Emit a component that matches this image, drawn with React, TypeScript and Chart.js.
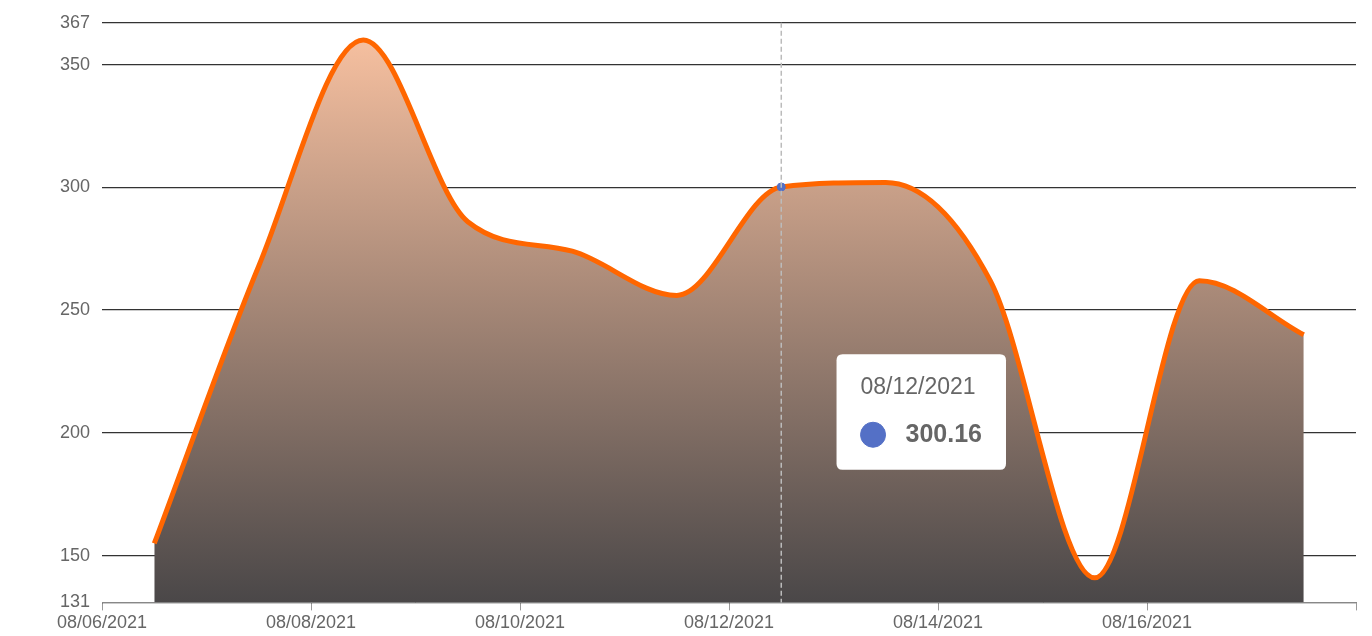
import React, { useEffect, useRef } from "react";
import { Chart, registerables, Tooltip } from "chart.js";
Chart.register(...registerables);

const dayLabels = ["08/06/2021","08/07/2021","08/08/2021","08/09/2021","08/10/2021","08/11/2021","08/12/2021","08/13/2021","08/14/2021","08/15/2021","08/16/2021","08/17/2021","08/18/2021"];
const pointDays = [0.5,1.5,2.5,3.5,4.5,5.5,6.5,7.5,8.5,9.5,10.5,11.5];
const values = [155,268,360,286,274,256,300.16,302,262,141,262,240];
const yTicks = [131,150,200,250,300,350,367];

(Tooltip.positioners as any).offsetBox = function (items: any[]) {
  if (!items.length) return false;
  const el = items[0].element;
  return { x: el.x + 140, y: el.y + 225 };
};

export default function App() {
  const ref = useRef<HTMLCanvasElement>(null);
  useEffect(() => {
    document.body.style.margin = "0";
    const ctx = ref.current!.getContext("2d")!;
    const crosshair = {
      id: "crosshair",
      afterDatasetsDraw(chart: any) {
        const act = chart.getActiveElements();
        if (!act.length) return;
        const x = act[0].element.x;
        const { top, bottom } = chart.chartArea;
        const c = chart.ctx;
        c.save();
        c.strokeStyle = "#bbbbbb";
        c.lineWidth = 1.5;
        c.setLineDash([5, 3]);
        c.beginPath();
        c.moveTo(x, top);
        c.lineTo(x, bottom);
        c.stroke();
        c.restore();
      },
    };
    const chart = new Chart(ctx, {
      type: "line",
      data: {
        datasets: [{
          data: pointDays.map((d, i) => ({ x: d, y: values[i] })),
          borderColor: "#ff6600",
          borderWidth: 5,
          cubicInterpolationMode: "monotone",
          fill: "start",
          backgroundColor: (c: any) => {
            const area = c.chart.chartArea;
            if (!area) return "#a0806f";
            const g = c.chart.ctx.createLinearGradient(0, area.top, 0, area.bottom);
            g.addColorStop(0, "#fbc3a2");
            g.addColorStop(1, "#4a4748");
            return g;
          },
          pointRadius: 0,
          pointHoverRadius: 4,
          pointHoverBackgroundColor: "#5470c6",
          pointHoverBorderColor: "#5470c6",
          pointHoverBorderWidth: 1,
        }],
      },
      options: {
        animation: false,
        responsive: false,
        events: [],
        layout: { padding: { top: 16, right: 16, left: 48, bottom: 0 } },
        plugins: {
          legend: { display: false },
          tooltip: {
            position: "offsetBox" as any,
            backgroundColor: "#ffffff",
            titleColor: "#666666",
            bodyColor: "#666666",
            titleFont: { size: 23, weight: "normal", family: "Liberation Sans, Arial" },
            bodyFont: { size: 25, weight: "bold", family: "Liberation Sans, Arial" },
            padding: { top: 20, bottom: 20, left: 24, right: 24 },
            titleMarginBottom: 18,
            caretSize: 0,
            cornerRadius: 6,
            usePointStyle: true,
            boxPadding: 18,
            xAlign: "center",
            yAlign: "center",
            callbacks: {
              title: (items: any[]) => dayLabels[Math.floor(items[0].parsed.x)],
              label: (item: any) => item.parsed.y.toFixed(2),
              labelColor: () => ({ borderColor: "#5470c6", backgroundColor: "#5470c6" }),
              labelPointStyle: () => ({ pointStyle: "circle", rotation: 0 }),
            },
          },
        },
        scales: {
          x: {
            type: "linear",
            min: 0,
            max: 12,
            ticks: {
              stepSize: 2,
              color: "#666666",
              font: { size: 18, family: "Liberation Sans, Arial" },
              callback: (v: any) => (v < 12 ? dayLabels[v] : ""),
              maxRotation: 0,
              padding: 2,
            },
            grid: { display: true, drawOnChartArea: false, color: "#999", tickLength: 8 },
            border: { color: "#888" },
          },
          y: {
            min: 131,
            max: 367,
            afterBuildTicks: (s: any) => { s.ticks = yTicks.map((v) => ({ value: v })); },
            ticks: { color: "#666666", font: { size: 18, family: "Liberation Sans, Arial" }, autoSkip: false, padding: 12 },
            grid: { color: "#333333", lineWidth: 1.3, drawTicks: false },
            border: { display: false },
          },
        },
      } as any,
      plugins: [crosshair],
    });
    chart.setActiveElements([{ datasetIndex: 0, index: 6 }]);
    chart.tooltip!.setActiveElements([{ datasetIndex: 0, index: 6 }], { x: 0, y: 0 });
    chart.update();
    return () => chart.destroy();
  }, []);
  return <canvas ref={ref} width={1372} height={636} style={{ display: "block" }} />;
}
